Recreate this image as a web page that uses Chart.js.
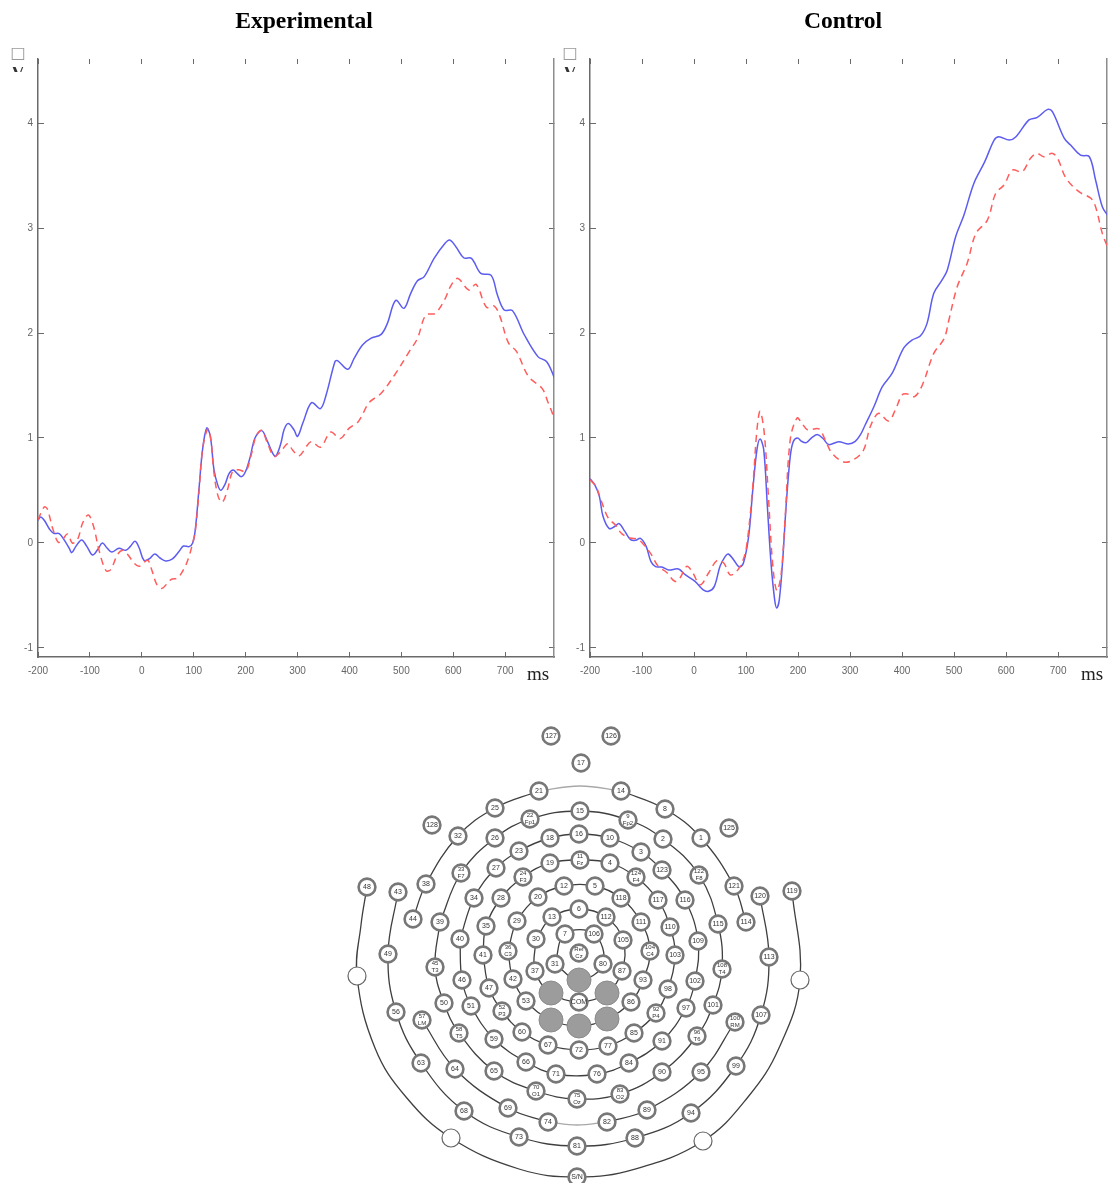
<!DOCTYPE html>
<html>
<head>
<meta charset="utf-8">
<title>ERP waveforms and electrode map</title>
<script src="https://cdn.jsdelivr.net/npm/chart.js@4/dist/chart.umd.min.js"></script>
<style>
  html, body { margin: 0; padding: 0; background: #fff; }
  body { position: relative; width: 1109px; height: 1183px; overflow: hidden; }
  canvas { position: absolute; }
  #expChart { left: 0; top: 0; }
  #ctrlChart { left: 556px; top: 0; }
  #mapChart { left: 330px; top: 700px; }
</style>
</head>
<body>
<canvas id="expChart" width="556" height="700"></canvas>
<canvas id="ctrlChart" width="553" height="700"></canvas>
<canvas id="mapChart" width="500" height="483"></canvas>
<script>
// axis ticks, shared by both waveform plots
const xTicks = [-200, -100, 0, 100, 200, 300, 400, 500, 600, 700];
const yTicks = [-1, 0, 1, 2, 3, 4];

// Experimental, blue solid
const expBlueMs = [-200,-195,-188,-178,-170,-159,-150,-140,-135,-127,-116,-106,-95,-85,-76,-67,-58,-44,-31,-22,-13,-5,4,14,25,35,46,59,72,80,91,98,103,110,117,125,132,139,146,152,160,168,176,184,192,200,209,218,231,242,252,258,268,274,282,293,300,310,327,344,355,372,377,397,409,425,441,461,473,489,505,518,531,544,563,583,593,605,620,635,653,673,685,698,714,737,763,780,796];
const expBlueUv = [.216,.248,.216,.133,.092,.089,.032,-.048,-.092,-.032,.029,-.032,-.114,-.063,0,-.048,-.086,-.051,-.07,-.032,.016,-.048,-.165,-.152,-.105,-.143,-.171,-.152,-.079,-.029,-.035,0,.127,.508,.889,1.095,1.016,.698,.556,.502,.556,.66,.695,.66,.632,.683,.825,1,1.07,.968,.857,.825,.952,1.079,1.137,1.079,1.016,1.14,1.337,1.28,1.41,1.727,1.737,1.654,1.759,1.886,1.949,1.987,2.092,2.311,2.235,2.378,2.498,2.537,2.711,2.848,2.886,2.822,2.717,2.711,2.568,2.549,2.362,2.219,2.213,1.981,1.775,1.727,1.559];
// Experimental, red dashed
const expRedMs = [-200,-188,-182,-172,-161,-153,-143,-134,-124,-114,-103,-93,-82,-69,-60,-47,-37,-28,-15,-5,11,19,29,39,56,69,82,91,98,103,110,117,127,133,139,147,155,165,175,186,200,210,220,231,242,255,268,281,290,303,326,344,364,382,399,417,438,461,489,515,531,547,565,583,596,609,630,644,664,679,690,706,722,745,771,782,796];
const expRedUv = [.222,.343,.324,.143,.006,.032,.086,0,.032,.19,.267,.159,-.079,-.263,-.254,-.111,-.07,-.105,-.19,-.222,-.165,-.254,-.397,-.432,-.349,-.333,-.238,-.127,0,.111,.476,.889,1.086,.984,.667,.444,.387,.508,.683,.698,.683,.825,1.016,1.073,.952,.825,.873,.946,.889,.83,.965,.912,1.057,.994,1.092,1.156,1.337,1.426,1.616,1.822,1.949,2.171,2.187,2.314,2.457,2.52,2.409,2.463,2.245,2.257,2.156,1.908,1.822,1.584,1.473,1.346,1.171];

// Control, blue solid
const ctrlBlueMs = [-200,-191,-182,-175,-163,-152,-144,-133,-122,-112,-103,-92,-83,-74,-62,-49,-30,-17,2,17,28,39,50,60,66,76,87,95,105,113,121,127,134,141,148,155,159,164,171,177,185,191,199,207,216,227,238,249,259,278,297,310,320,329,346,362,381,403,419,435,448,461,477,487,503,519,538,559,577,586,606,619,644,660,680,689,712,724,743,760,772,785,796];
const ctrlBlueUv = [.613,.556,.444,.254,.137,.159,.184,.111,.032,.025,.044,-.032,-.175,-.225,-.229,-.257,-.248,-.302,-.365,-.444,-.46,-.413,-.222,-.127,-.105,-.159,-.229,-.19,.063,.508,.889,.99,.889,.349,-.19,-.54,-.619,-.54,-.127,.349,.825,.968,1,.968,.956,1.006,1.032,.99,.937,.965,.943,.968,1.032,1.124,1.3,1.489,1.617,1.855,1.933,1.971,2.092,2.378,2.505,2.6,2.917,3.124,3.425,3.632,3.838,3.87,3.838,3.87,4.03,4.054,4.13,4.108,3.854,3.79,3.695,3.679,3.457,3.203,3.114];
// Control, red dashed
const ctrlRedMs = [-200,-188,-178,-165,-152,-139,-123,-107,-94,-82,-69,-53,-37,-27,-14,-4,12,28,44,57,69,79,92,101,113,121,127,135,143,151,159,167,175,185,198,207,218,240,252,265,288,307,326,339,355,374,387,400,410,424,439,461,481,490,506,525,542,564,580,596,612,631,647,659,673,689,699,715,740,763,772,785,796];
const ctrlRedUv = [.603,.533,.397,.238,.175,.089,.048,.032,-.032,-.111,-.222,-.279,-.365,-.333,-.222,-.27,-.397,-.286,-.168,-.19,-.302,-.286,-.19,-.032,.54,1.079,1.254,1.048,.444,-.19,-.454,-.317,.222,.984,1.19,1.143,1.079,1.086,.984,.857,.771,.794,.886,1.11,1.235,1.162,1.267,1.41,1.419,1.394,1.505,1.806,1.949,2.124,2.441,2.663,2.949,3.076,3.33,3.41,3.552,3.537,3.664,3.711,3.679,3.711,3.664,3.476,3.346,3.283,3.203,2.949,2.806];

// electrode map: name (optional second line after the space) in page pixels
const electrodeNames = ['127','126','17','21','14','25','8','128','125','32','1','22 Fp1','9 Fp2','15','26','2','18','16','10','23','3','33 F7','122 F8','27','123','19','11 Fz','4','24 F3','124 F4','12','5','20','118','28','117','34','116','38','121','48','43','119','120','44','114','39','115','35','110','29','111','13','112','6','7','106','30','105','40','109','36 C3','104 C4','Ref Cz','41','103','49','113','45 T3','108 T4','31','80','37','87','46','102','42','93','47','98','53','86','COM','50','101','51','97','52 P3','92 P4','56','107','57 LM','100 RM','60','85','58 T5','96 T6','67','77','72','59','91','66','84','64','65','90','95','63','99','71','76','70 O1','83 O2','75 Oz','69','89','74','82','68','94','73','88','81','S/N'];
const electrodeX = [551,611,581,539,621,495,665,432,729,458,701,530,628,580,495,663,550,579,610,519,641,461,699,496,662,550,580,610,523,636,564,595,538,621,501,658,474,685,426,734,367,398,792,760,413,746,440,718,486,670,517,641,552,606,579,565,594,536,623,460,698,508,650,579,483,675,388,769,435,722,555,603,535,622,462,695,513,643,489,668,526,631,579,444,713,471,686,502,656,396,761,422,735,522,634,459,697,548,608,579,494,662,526,629,455,494,662,701,421,736,556,597,536,620,577,508,647,548,607,464,691,519,635,577,577];
const electrodeY = [736,736,763,791,791,808,809,825,828,836,838,819,820,811,838,839,838,834,838,851,852,873,875,868,870,863,860,863,877,877,886,886,897,898,898,900,898,900,884,886,887,892,891,896,919,922,922,924,926,927,921,922,917,917,909,934,934,939,940,939,941,951,951,953,955,955,954,957,967,969,964,964,971,971,980,981,979,980,988,989,1001,1002,1002,1003,1005,1006,1008,1011,1013,1012,1015,1020,1022,1032,1033,1033,1036,1045,1046,1050,1039,1041,1062,1063,1069,1071,1072,1072,1063,1066,1074,1074,1091,1094,1099,1108,1110,1122,1122,1111,1113,1137,1138,1146,1177];
// plain white and filled grey sites carry no number
const blankX = [357,800,451,703];
const blankY = [976,980,1138,1141];
const greyX = [551,579,607,551,579,607];
const greyY = [993,980,993,1020,1026,1019];
// bends on the long outer arcs, not sites
const bendNames = ['b1','b2','b3','b4','b5','b6','b7','b8','b9'];
const bendX = [375,406,519,635,748,779,580,577,361];
const bendY = [1048,1097,1169,1169,1097,1048,786,1125,925];

// wires between the sites, by name
const wireA = ['48','b9','w0','b1','b2','w2','b3','S/N','b4','w3','b5','b6','w1','119'];
const wireB = ['43','49','56','63','68','73','81','88','94','99','107','113','120'];
const wireC1 = ['44','38','32','25','21'];
const wireC2 = ['14','8','1','121','114'];
const wireC3 = ['21','b7','14'];
const wireD1 = ['57','64','69','74'];
const wireD2 = ['82','89','95','100'];
const wireD3 = ['74','b8','82'];
const wireE = ['39','33','26','22','15','9','2','122','115','108','101','96','90','83','75','70','65','58','50','45','39'];
const wireF = ['40','46','51','59','66','71','76','84','91','97','102','109','116','123','3','10','16','18','23','27','34','40'];
const wireG = ['41','35','28','24','19','11','4','124','117','110','103','98','92','85','77','72','67','60','52','47','41'];
const wireH = ['36','29','20','12','5','118','111','104','93','86','g5','g4','g3','53','42','36'];
const wireI = ['30','13','6','112','105','87','g2','COM','g0','37','30'];
const wireJ = ['31','7','106','80','g1','31'];
const darkWires = [wireA, wireB, wireC1, wireC2, wireD1, wireD2, wireE, wireF, wireG, wireH, wireI, wireJ];
const paleWires = [wireC3, wireD3];

const AXIS_COLOR = '#6a6a6a';
const TICK_FONT = { family: '"Liberation Sans", Arial, sans-serif', size: 10 };

function toPoints(xs, ys) {
  return xs.map((x, i) => ({ x: x, y: ys[i] }));
}

// inward ticks need explicit box sizes so the plot lands where the figure has it
function fixedBox(prop, size) {
  return (scale) => { scale[prop] = size; };
}

function useTicks(values) {
  return (scale) => { scale.ticks = values.map((v) => ({ value: v })); };
}

// figure captions around a waveform plot
const captions = {
  id: 'captions',
  afterDraw(chart, args, opts) {
    const ctx = chart.ctx;
    ctx.save();
    ctx.fillStyle = '#000';
    ctx.textAlign = 'center';
    ctx.textBaseline = 'alphabetic';
    ctx.font = 'bold 23.6px "Liberation Serif", "Times New Roman", serif';
    ctx.fillText(opts.title, opts.titleX, 28);
    ctx.font = '19px "Liberation Serif", "Times New Roman", serif';
    ctx.fillStyle = '#222';
    ctx.fillText('ms', opts.msX, 680);
    // y unit: missing glyph box and a V cut off by the axes, as in the source figure
    ctx.fillStyle = '#999';
    ctx.font = '16px "DejaVu Sans", sans-serif';
    ctx.fillText('\u25A1', opts.unitX, 58);
    ctx.beginPath();
    ctx.rect(opts.unitX - 10, 67, 20, 5);
    ctx.clip();
    ctx.fillStyle = '#333';
    ctx.font = 'bold 18px "Liberation Serif", serif';
    ctx.fillText('V', opts.unitX, 79);
    ctx.restore();
  },
};

function erpChart(id, series, layout) {
  return new Chart(document.getElementById(id), {
    type: 'line',
    data: {
      datasets: [
        {
          label: 'Red',
          data: toPoints(series.redMs, series.redUv),
          borderColor: '#ff5c5c',
          borderWidth: 1.5,
          borderDash: [7, 5],
          pointRadius: 0,
          tension: 0.35,
        },
        {
          label: 'Blue',
          data: toPoints(series.blueMs, series.blueUv),
          borderColor: '#5c5cf0',
          borderWidth: 1.5,
          pointRadius: 0,
          tension: 0.35,
        },
      ],
    },
    options: {
      responsive: false,
      animation: false,
      events: [],
      layout: { autoPadding: false, padding: 0 },
      plugins: {
        legend: { display: false },
        tooltip: { enabled: false },
        captions: layout.captions,
      },
      scales: {
        x: {
          type: 'linear',
          position: 'bottom',
          min: -200,
          max: 794,
          afterBuildTicks: useTicks(xTicks),
          afterFit: fixedBox('height', 700 - 657),
          border: { color: AXIS_COLOR, width: 1.5 },
          grid: { drawOnChartArea: false, tickLength: -5, color: AXIS_COLOR, tickWidth: 1 },
          ticks: { color: '#666', font: TICK_FONT, padding: 13, maxRotation: 0, autoSkip: false, callback: (v) => v },
        },
        x2: {
          type: 'linear',
          position: 'top',
          min: -200,
          max: 794,
          afterBuildTicks: useTicks(xTicks),
          afterFit: fixedBox('height', 59),
          border: { display: false },
          grid: { drawOnChartArea: false, tickLength: -5, color: AXIS_COLOR, tickWidth: 1 },
          ticks: { display: false, autoSkip: false },
        },
        y: {
          type: 'linear',
          position: 'left',
          min: -1.086,
          max: 4.61,
          afterBuildTicks: useTicks(yTicks),
          afterFit: fixedBox('width', layout.left),
          border: { color: AXIS_COLOR, width: 1.5 },
          grid: { drawOnChartArea: false, tickLength: -6, color: AXIS_COLOR, tickWidth: 1 },
          ticks: { color: '#666', font: TICK_FONT, padding: 11, autoSkip: false, callback: (v) => v },
        },
        y2: {
          type: 'linear',
          position: 'right',
          min: -1.086,
          max: 4.61,
          afterBuildTicks: useTicks(yTicks),
          afterFit: fixedBox('width', 2),
          border: { color: '#8c8c8c', width: 1.5 },
          grid: { drawOnChartArea: false, tickLength: -5, color: AXIS_COLOR, tickWidth: 1 },
          ticks: { display: false, autoSkip: false },
        },
      },
    },
    plugins: [captions],
  });
}

erpChart('expChart',
  { blueMs: expBlueMs, blueUv: expBlueUv, redMs: expRedMs, redUv: expRedUv },
  { left: 38, captions: { title: 'Experimental', titleX: 304, msX: 538, unitX: 18 } });

erpChart('ctrlChart',
  { blueMs: ctrlBlueMs, blueUv: ctrlBlueUv, redMs: ctrlRedMs, redUv: ctrlRedUv },
  { left: 34, captions: { title: 'Control', titleX: 287, msX: 536, unitX: 14 } });

// name -> position lookup for the wires
const sitePos = {};
electrodeNames.forEach((n, i) => { sitePos[n.split(' ')[0]] = { x: electrodeX[i], y: electrodeY[i] }; });
blankX.forEach((x, i) => { sitePos['w' + i] = { x: x, y: blankY[i] }; });
greyX.forEach((x, i) => { sitePos['g' + i] = { x: x, y: greyY[i] }; });
bendNames.forEach((n, i) => { sitePos[n] = { x: bendX[i], y: bendY[i] }; });

function wireDataset(wire, color) {
  return {
    type: 'scatter',
    showLine: true,
    data: wire.map((n) => sitePos[n]),
    borderColor: color,
    borderWidth: 1.3,
    tension: 0.4,
    pointRadius: 0,
    order: 5,
  };
}

const electrodeLabels = {
  id: 'electrodeLabels',
  afterDatasetsDraw(chart) {
    const ctx = chart.ctx;
    const xs = chart.scales.x;
    const ys = chart.scales.y;
    ctx.save();
    ctx.fillStyle = '#333';
    ctx.textAlign = 'center';
    ctx.textBaseline = 'middle';
    electrodeNames.forEach((name, i) => {
      const px = xs.getPixelForValue(electrodeX[i]);
      const py = ys.getPixelForValue(electrodeY[i]);
      const parts = name.split(' ');
      if (parts.length > 1) {
        ctx.font = '6px "Liberation Sans Narrow", "Liberation Sans", sans-serif';
        ctx.fillText(parts[0], px, py - 3.5);
        ctx.fillText(parts[1], px, py + 3.5);
      } else {
        ctx.font = '7px "Liberation Sans Narrow", "Liberation Sans", sans-serif';
        ctx.fillText(name, px, py);
      }
    });
    ctx.restore();
  },
};

new Chart(document.getElementById('mapChart'), {
  type: 'scatter',
  data: {
    datasets: [
      ...darkWires.map((w) => wireDataset(w, '#3f3f3f')),
      ...paleWires.map((w) => wireDataset(w, '#a8a8a8')),
      {
        label: 'Electrodes',
        data: toPoints(electrodeX, electrodeY),
        backgroundColor: '#fff',
        borderColor: '#777',
        borderWidth: 2.6,
        pointRadius: 8.4,
        order: 1,
      },
      {
        label: 'Blank sites',
        data: toPoints(blankX, blankY),
        backgroundColor: '#fff',
        borderColor: '#666',
        borderWidth: 1.2,
        pointRadius: 9,
        order: 1,
      },
      {
        label: 'Selected sites',
        data: toPoints(greyX, greyY),
        backgroundColor: '#9c9c9c',
        borderColor: '#8a8a8a',
        borderWidth: 1,
        pointRadius: 12,
        order: 1,
      },
    ],
  },
  options: {
    responsive: false,
    animation: false,
    events: [],
    layout: { autoPadding: false, padding: 0 },
    plugins: { legend: { display: false }, tooltip: { enabled: false } },
    scales: {
      x: { type: 'linear', display: false, min: 330, max: 830 },
      y: { type: 'linear', display: false, min: 700, max: 1183, reverse: true },
    },
  },
  plugins: [electrodeLabels],
});
</script>
</body>
</html>
